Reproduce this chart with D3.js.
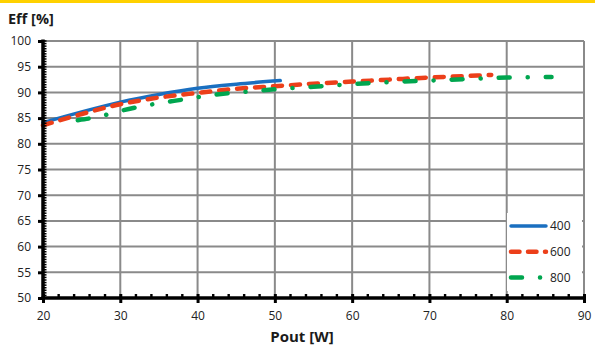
<!DOCTYPE html>
<html>
<head>
<meta charset="utf-8">
<script src="https://cdn.jsdelivr.net/npm/d3@7"></script>
<style>
  body { margin: 0; background: #fff; }
  text { font-family: "Open Sans", sans-serif; }
</style>
</head>
<body>
<div id="chart"></div>
<script>
// values
const x400 = [20, 25, 30, 35, 40, 45, 50.7];
const y400 = [84.1, 86.2, 88.1, 89.6, 90.8, 91.6, 92.3];
const x600 = [20, 25, 30, 35, 40, 45, 50, 55, 60, 65, 70, 75, 78];
const y600 = [83.6, 85.8, 87.7, 89.0, 89.9, 90.7, 91.2, 91.7, 92.1, 92.5, 92.9, 93.2, 93.4];
const x800 = [24.5, 27, 30, 32.5, 35, 38.5, 40.5, 44.5, 47, 50, 55, 60, 65, 70, 75, 80, 85.8];
const y800 = [84.6, 85.2, 86.4, 87.2, 87.9, 88.7, 89.2, 89.9, 90.2, 90.6, 91.1, 91.6, 92.0, 92.3, 92.6, 92.9, 93.0];
const xTicks = [20, 30, 40, 50, 60, 70, 80, 90];
const yTicks = [50, 55, 60, 65, 70, 75, 80, 85, 90, 95, 100];

const series = [
  { name: "400", xs: x400, ys: y400, color: "#1a6fc0", width: 3.5, dash: null },
  { name: "600", xs: x600, ys: y600, color: "#ec3f1a", width: 4.5, dash: "9 9" },
  { name: "800", xs: x800, ys: y800, color: "#00a64f", width: 4.5, dash: "11 18 0.1 18" }
];

const width = 595, height = 351;
const margin = { top: 41, right: 11, bottom: 53, left: 43 };

const svg = d3.select("#chart").append("svg")
  .attr("width", width).attr("height", height);

// yellow band on top
svg.append("rect").attr("x", 0).attr("y", 0).attr("width", width).attr("height", 3).attr("fill", "#ffd100");

const x = d3.scaleLinear().domain([20, 90]).range([margin.left, width - margin.right]);
const y = d3.scaleLinear().domain([50, 100]).range([height - margin.bottom, margin.top]);

// grid
const grid = svg.append("g").attr("stroke", "#8a8a8a").attr("stroke-width", 2);
grid.selectAll(".gx").data(xTicks.slice(1)).enter().append("line")
  .attr("x1", d => x(d)).attr("x2", d => x(d))
  .attr("y1", y(100)).attr("y2", y(50));
grid.selectAll(".gy").data(yTicks.slice(1)).enter().append("line")
  .attr("x1", x(20)).attr("x2", x(90))
  .attr("y1", d => y(d)).attr("y2", d => y(d));

// curves
const line = d3.line().x(d => x(d[0])).y(d => y(d[1])).curve(d3.curveMonotoneX);
series.forEach(s => {
  svg.append("path")
    .datum(s.xs.map((v, i) => [v, s.ys[i]]))
    .attr("d", line)
    .attr("fill", "none")
    .attr("stroke", s.color)
    .attr("stroke-width", s.width)
    .attr("stroke-linecap", "round")
    .attr("stroke-dasharray", s.dash);
});

// y axis: thick line, major ticks outward, dense minor ticks inward
const yAxis = svg.append("g").attr("transform", `translate(${x(20)},0)`);
yAxis.call(d3.axisLeft(y).tickValues(yTicks).tickSize(5).tickPadding(7))
yAxis.select(".domain").remove();
yAxis.selectAll(".tick line").attr("stroke", "#000").attr("stroke-width", 3);
yAxis.selectAll(".tick text").attr("fill", "#222").style("font-size", "12px").attr("font-family", "Open Sans");
yAxis.selectAll(".minor").data(d3.range(50, 100.01, 0.5)).enter().append("line")
  .attr("x1", 0).attr("x2", 3.5).attr("y1", d => y(d)).attr("y2", d => y(d))
  .attr("stroke", "#000").attr("stroke-width", 1.5);
yAxis.append("line").attr("x1", 0).attr("x2", 0).attr("y1", y(100) - 1.5).attr("y2", y(50))
  .attr("stroke", "#000").attr("stroke-width", 3.5);

// x axis
const xAxis = svg.append("g").attr("transform", `translate(0,${y(50)})`);
xAxis.call(d3.axisBottom(x).tickValues(xTicks).tickSize(5).tickPadding(8));
xAxis.select(".domain").remove();
xAxis.selectAll(".tick line").attr("stroke", "#000").attr("stroke-width", 3).attr("y1", -4);
xAxis.selectAll(".tick text").attr("fill", "#222").style("font-size", "12px").attr("font-family", "Open Sans");
xAxis.selectAll(".minor").data(d3.range(22, 90, 2).filter(d => d % 10 !== 0)).enter().append("rect")
  .attr("x", d => x(d) - 1).attr("y", -4).attr("width", 2.4).attr("height", 3.5)
  .attr("fill", "#000");
xAxis.append("line").attr("x1", x(20) - 1.5).attr("x2", x(90) + 1.5).attr("y1", 0).attr("y2", 0)
  .attr("stroke", "#000").attr("stroke-width", 3.5);

// titles
svg.append("text").attr("x", 8).attr("y", 24).text("Eff [%]")
  .attr("font-weight", "bold").attr("font-size", 14.5).attr("fill", "#1a1a1a");
svg.append("text").attr("x", 302).attr("y", 342).attr("text-anchor", "middle").text("Pout [W]")
  .attr("font-weight", "bold").attr("font-size", 15).attr("fill", "#1a1a1a");

// legend
const legend = svg.append("g");
legend.append("rect").attr("x", 507).attr("y", 213).attr("width", 75).attr("height", 78).attr("fill", "#fff");
series.forEach((s, i) => {
  const ly = 226 + i * 25.8;
  legend.append("line").attr("x1", 511).attr("x2", 546).attr("y1", ly).attr("y2", ly)
    .attr("stroke", s.color).attr("stroke-width", s.width).attr("stroke-linecap", "round")
    .attr("stroke-dasharray", s.dash ? (i === 1 ? "8.5 8.5" : "11 18 0.1 18") : null);
  legend.append("text").attr("x", 550).attr("y", ly + 4).text(s.name)
    .attr("font-size", 12).attr("fill", "#222");
});
</script>
</body>
</html>
